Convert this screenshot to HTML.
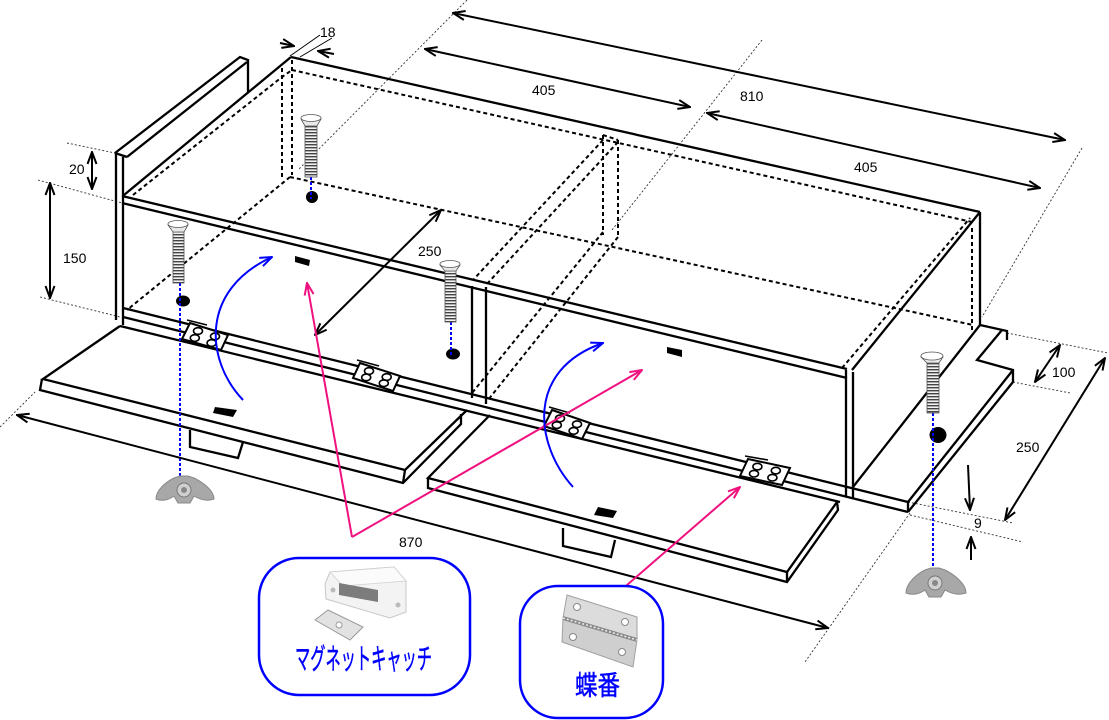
<!DOCTYPE html>
<html><head><meta charset="utf-8"><style>
html,body{margin:0;padding:0;background:#fff;}
svg{display:block;}
text{font-family:"Liberation Sans","Noto Sans CJK JP",sans-serif;}
</style></head><body>
<svg width="1109" height="720" viewBox="0 0 1109 720" xmlns="http://www.w3.org/2000/svg">
<defs>
<marker id="ak" markerUnits="userSpaceOnUse" markerWidth="14" markerHeight="12" viewBox="0 0 14 12" refX="13" refY="6" orient="auto-start-reverse"><path d="M1,1.5 L13,6 L1,10.5" fill="none" stroke="#000" stroke-width="2"/></marker>
<marker id="ap" markerUnits="userSpaceOnUse" markerWidth="14" markerHeight="12" viewBox="0 0 14 12" refX="13" refY="6" orient="auto-start-reverse"><path d="M1,1.5 L13,6 L1,10.5" fill="none" stroke="#f0107f" stroke-width="2"/></marker>
<marker id="ab" markerUnits="userSpaceOnUse" markerWidth="14" markerHeight="12" viewBox="0 0 14 12" refX="13" refY="6" orient="auto-start-reverse"><path d="M1,1.5 L13,6 L1,10.5" fill="none" stroke="#0000ff" stroke-width="2"/></marker>
<pattern id="thr" width="4" height="3" patternUnits="userSpaceOnUse"><rect width="4" height="3" fill="#f2f2f2"/><rect width="4" height="1.4" fill="#444"/></pattern>
</defs>
<rect width="1109" height="720" fill="#fff"/>

<!-- thin dotted extension lines -->
<g fill="none" stroke="#333" stroke-width="0.9" stroke-dasharray="2,2">
<path d="M67,143 L115,153"/>
<path d="M38,180 L122,203"/>
<path d="M40,297 L120,317"/>
<path d="M467,0 L298,170"/>
<path d="M762,40 L612,230"/>
<path d="M1082,148 L982,317"/>
<path d="M1007,333 L1108,353"/>
<path d="M1013,382 L1070,393"/>
<path d="M908,502 L1013,523"/>
<path d="M910,515 L1023,542"/>
<path d="M0,427 L35,392"/>
<path d="M910,513 L805,662"/>
</g>
<g fill="none" stroke="#000" stroke-width="1">
<path d="M290,56 L320,35"/>
<path d="M300,57 L332,38"/>
</g>

<!-- dashed hidden edges -->
<g fill="none" stroke="#000" stroke-width="2" stroke-dasharray="4,3">
<path d="M282,68 V180"/>
<path d="M292,60 V175"/>
<path d="M292,70 L972,222"/>
<path d="M133,195 L282,77 L292,70"/>
<path d="M290,177 L973,325"/>
<path d="M290,177 L127,310"/>
<path d="M603,135 V235"/>
<path d="M618,140 V237"/>
<path d="M603,135 L618,140"/>
<path d="M603,140 L473,280"/>
<path d="M618,142 L486,285"/>
<path d="M603,232 L472,393"/>
<path d="M618,237 L488,400"/>
<path d="M972,228 V330"/>
<path d="M842,368 L970,218"/>
</g>

<!-- solid box lines -->
<g fill="none" stroke="#000" stroke-width="2.3" stroke-linejoin="miter">
<path d="M115,153 L240,57 L248,60 L248,92"/>
<path d="M127,157 L247,62"/>
<path d="M115,153 L127,157"/>
<path d="M116,153 V320"/>
<path d="M123,157 V325"/>
<path d="M124,195 L291,57"/>
<path d="M291,57 L980,212"/>
<path d="M980,212 L852,370"/>
<path d="M980,212 V326"/>
<path d="M122,196 L847,369"/>
<path d="M122,203 L847,378"/>
<path d="M846,370 V497"/>
<path d="M853,372 V498"/>
<path d="M123,308 L908,502"/>
<path d="M123,317 L908,512"/>
<path d="M120,326 L840,502"/>
<!-- left door -->
<path d="M120,326 L43,379 L405,470 L467,410"/>
<path d="M42,379 L40,390 L403,483 L461,424 L461,414"/>
<path d="M405,470 L403,483"/>
<!-- right door -->
<path d="M490,415 L428,478 L787,572 L837,502"/>
<path d="M428,478 L428,488 L787,582 L838,510 L837,502"/>
<path d="M787,572 L787,582"/>
<!-- handles -->
<path d="M190,430 L190,447 L238,458 L243,442"/>
<path d="M563,528 L563,546 L611,557 L615,540"/>
<!-- partition front -->
<path d="M472,286 V398"/>
<path d="M486,287 V404"/>
<!-- right side board -->
<path d="M853,487 L980,325"/>
<path d="M980,325 L1007,331 L1007,340"/>
<path d="M1002,330 L977,360 L1013,370 L1013,382"/>
<path d="M1013,370 L908,502"/>
<path d="M1013,382 L908,512"/>
<path d="M908,502 V512"/>
</g>

<!-- hinges -->
<g fill="#fff" stroke="#000" stroke-width="2">
<polygon points="190,323 228,335 221,350 182,339"/>
<polygon points="360,363 400,376 393,391 353,378"/>
<polygon points="552,410 590,423 582,439 544,426"/>
<polygon points="748,459 790,468 782,485 740,476"/>
</g>
<g fill="none" stroke="#000" stroke-width="1.6">
<path d="M187,320 L207,325"/><path d="M357,360 L379,366"/><path d="M549,407 L570,413"/><path d="M745,456 L768,460"/>
<ellipse cx="198" cy="331" rx="4.5" ry="3.3"/><ellipse cx="215" cy="336.4" rx="4.5" ry="3.3"/><ellipse cx="194.8" cy="338" rx="4.5" ry="3.3"/><ellipse cx="211.6" cy="343" rx="4.5" ry="3.3"/>
<ellipse cx="369" cy="371" rx="4.5" ry="3.3"/><ellipse cx="386.7" cy="377" rx="4.5" ry="3.3"/><ellipse cx="366.2" cy="377.4" rx="4.5" ry="3.3"/><ellipse cx="383.8" cy="383.2" rx="4.5" ry="3.3"/>
<ellipse cx="560" cy="418.4" rx="4.5" ry="3.3"/><ellipse cx="577" cy="424.2" rx="4.5" ry="3.3"/><ellipse cx="556.8" cy="425.1" rx="4.5" ry="3.3"/><ellipse cx="573.6" cy="430.9" rx="4.5" ry="3.3"/>
<ellipse cx="757.4" cy="466.6" rx="4.5" ry="3.3"/><ellipse cx="775.8" cy="470.6" rx="4.5" ry="3.3"/><ellipse cx="754" cy="473.7" rx="4.5" ry="3.3"/><ellipse cx="772.4" cy="477.7" rx="4.5" ry="3.3"/>
</g>

<!-- magnet plates -->
<g fill="#000">
<polygon points="295,256 310,260 309,266 295,262"/>
<polygon points="667,347 682,350 682,357 667,353"/>
<polygon points="215,407 237,410 233,417 213,413"/>
<polygon points="598,507 617,511 613,518 594,515"/>
</g>

<!-- holes -->
<g fill="#000">
<ellipse cx="183" cy="301" rx="7" ry="5.5"/>
<ellipse cx="312" cy="197" rx="6" ry="6"/>
<ellipse cx="453" cy="354" rx="7" ry="5.5"/>
<ellipse cx="938" cy="435" rx="8.5" ry="8"/>
</g>

<!-- blue dotted lines -->
<g fill="none" stroke="#0000ff" stroke-width="2" stroke-dasharray="3,2">
<path d="M180,283 V478"/>
<path d="M311,177 V199"/>
<path d="M451,322 V355"/>
<path d="M933,413 V568"/>
</g>

<!-- screws -->
<g stroke="#555" stroke-width="0.8">
<rect x="173" y="231" width="11" height="52" fill="url(#thr)"/>
<path d="M168,225 L188,225 L184,232 L173,232 Z" fill="#e8e8e8"/>
<ellipse cx="178" cy="224" rx="10" ry="3.5" fill="#fff"/>
<rect x="305" y="125" width="12" height="52" fill="url(#thr)"/>
<path d="M301,119 L321,119 L317,126 L305,126 Z" fill="#e8e8e8"/>
<ellipse cx="311" cy="118" rx="10" ry="3.5" fill="#fff"/>
<rect x="445" y="270" width="11" height="52" fill="url(#thr)"/>
<path d="M440,265 L460,265 L456,271 L445,271 Z" fill="#e8e8e8"/>
<ellipse cx="450" cy="264" rx="10" ry="3.5" fill="#fff"/>
<rect x="927" y="362" width="12" height="51" fill="url(#thr)"/>
<path d="M921,357 L943,357 L939,363 L927,363 Z" fill="#e8e8e8"/>
<ellipse cx="932" cy="356" rx="11" ry="4" fill="#fff"/>
</g>

<!-- wing nuts -->
<g transform="translate(184,490)">
<path d="M-28,9 C-28,0 -18,-8 -10,-12 L-4,-14 L4,-14 L10,-12 C18,-8 30,0 30,9 C22,12 15,9 10,6 L6,13 L-6,13 L-10,6 C-14,9 -21,12 -28,9 Z" fill="#a8a8a8" stroke="#888" stroke-width="1"/>
<circle r="7" fill="#d0d0d0" stroke="#777"/><circle r="3" fill="#888"/>
</g>
<g transform="translate(935,583)">
<path d="M-29,10 C-29,0 -18,-9 -10,-13 L-4,-15 L4,-15 L10,-13 C18,-9 31,0 31,10 C22,13 15,10 10,7 L6,14 L-6,14 L-10,7 C-14,10 -21,13 -29,10 Z" fill="#a8a8a8" stroke="#888" stroke-width="1"/>
<circle r="7" fill="#d0d0d0" stroke="#777"/><circle r="3" fill="#888"/>
</g>

<!-- dimension arrows -->
<g fill="none" stroke="#000" stroke-width="2">
<path d="M92,152 V189" marker-start="url(#ak)" marker-end="url(#ak)"/>
<path d="M50,183 V298" marker-start="url(#ak)" marker-end="url(#ak)"/>
<path d="M315,335 L441,210" marker-start="url(#ak)" marker-end="url(#ak)"/>
<path d="M425,49 L690,107" marker-start="url(#ak)" marker-end="url(#ak)"/>
<path d="M453,13 L1065,140" marker-start="url(#ak)" marker-end="url(#ak)"/>
<path d="M707,113 L1040,188" marker-start="url(#ak)" marker-end="url(#ak)"/>
<path d="M1060,345 L1035,382" marker-start="url(#ak)" marker-end="url(#ak)"/>
<path d="M1105,358 L1005,520" marker-start="url(#ak)" marker-end="url(#ak)"/>
<path d="M17,415 L828,628" marker-start="url(#ak)" marker-end="url(#ak)"/>
<path d="M280,43 L294,46" marker-end="url(#ak)"/>
<path d="M334,54 L318,51" marker-end="url(#ak)"/>
<path d="M968,465 L970,510" marker-end="url(#ak)"/>
<path d="M971,560 L971,537" marker-end="url(#ak)"/>
</g>

<!-- pink pointers -->
<g fill="none" stroke="#f0107f" stroke-width="2">
<path d="M352,537 L307,283" marker-end="url(#ap)"/>
<path d="M352,537 L642,370" marker-end="url(#ap)"/>
<path d="M612,598 L740,487" marker-end="url(#ap)"/>
</g>

<!-- blue curved arrows -->
<g fill="none" stroke="#0000ff" stroke-width="2">
<path d="M243,400 C205,360 200,290 272,257" marker-end="url(#ab)"/>
<path d="M573,487 C535,445 525,370 603,343" marker-end="url(#ab)"/>
</g>

<!-- labels -->
<g font-size="14" fill="#000">
<text x="320" y="37">18</text>
<text x="69" y="174">20</text>
<text x="63" y="263">150</text>
<text x="532" y="95">405</text>
<text x="740" y="101">810</text>
<text x="854" y="172">405</text>
<text x="418" y="256">250</text>
<text x="1052" y="377">100</text>
<text x="1016" y="452">250</text>
<text x="974" y="528">9</text>
<text x="399" y="547">870</text>
</g>

<!-- callout boxes -->
<rect x="259" y="558" width="211" height="137" rx="40" ry="40" fill="#fff" stroke="#0000ff" stroke-width="2.5"/>
<rect x="520" y="586" width="143" height="132" rx="38" ry="38" fill="#fff" stroke="#0000ff" stroke-width="2.5"/>

<!-- magnet catch picture -->
<g>
<polygon points="330,572 394,567 406,581 406,612 390,618 326,599 325,584" fill="#f3f3f3" stroke="#c8c8c8" stroke-width="1"/>
<polygon points="330,572 394,567 406,581 343,586" fill="#fbfbfb" stroke="#d0d0d0" stroke-width="0.8"/>
<polygon points="339,583 378,590 378,602 339,595" fill="#7c7c7c"/>
<circle cx="333" cy="590" r="2.5" fill="#bbb"/>
<circle cx="398" cy="605" r="2.5" fill="#bbb"/>
<polygon points="315,620 328,610 363,627 350,640" fill="#e2e2e2" stroke="#9a9a9a" stroke-width="1"/>
<circle cx="339" cy="625" r="3" fill="#fff" stroke="#999"/>
</g>

<!-- hinge picture -->
<g>
<polygon points="567,595 637,617 637,640 563,618" fill="#dcdcdc" stroke="#a0a0a0" stroke-width="1"/>
<polygon points="563,618 637,640 633,667 562,642" fill="#cfcfcf" stroke="#a0a0a0" stroke-width="1"/>
<path d="M563,618 L637,640" stroke="#8a8a8a" stroke-width="4"/>
<path d="M563,618 L637,640" stroke="#eeeeee" stroke-width="1.5" stroke-dasharray="2,2"/>
<circle cx="577" cy="607" r="3.5" fill="#fff" stroke="#888"/>
<circle cx="625" cy="622" r="3.5" fill="#fff" stroke="#888"/>
<circle cx="573" cy="637" r="3.5" fill="#fff" stroke="#888"/>
<circle cx="622" cy="652" r="3.5" fill="#fff" stroke="#888"/>
</g>

<text x="295" y="669" font-size="29" fill="#0000ff" stroke="#0000ff" stroke-width="0.5" textLength="137" lengthAdjust="spacingAndGlyphs" style='font-family:"Liberation Sans","Noto Sans CJK JP",sans-serif'>マグネットキャッチ</text>
<text x="575" y="695" font-size="27" fill="#0000ff" stroke="#0000ff" stroke-width="0.5" textLength="45" lengthAdjust="spacingAndGlyphs" style='font-family:"Liberation Sans","Noto Sans CJK JP",sans-serif'>蝶番</text>
</svg>
</body></html>
